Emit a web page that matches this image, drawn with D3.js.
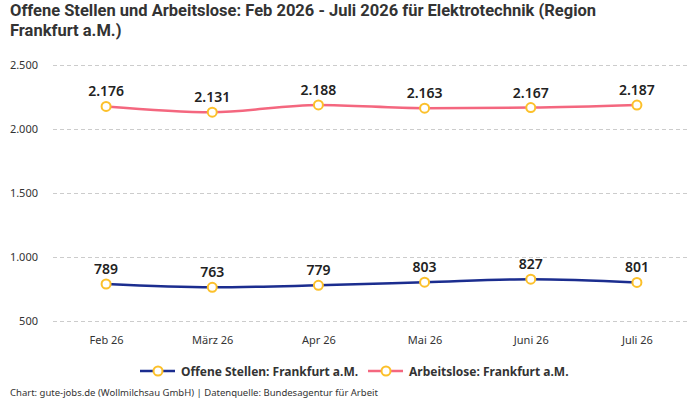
<!DOCTYPE html>
<html>
<head>
<meta charset="utf-8">
<script src="https://cdn.jsdelivr.net/npm/d3@7"></script>
<style>
  body { margin: 0; background: #fff; }
  text { font-family: "Noto Sans", "DejaVu Sans", sans-serif; }
</style>
</head>
<body>
<div id="chart"></div>
<script>
const months = ['Feb 26', 'März 26', 'Apr 26', 'Mai 26', 'Juni 26', 'Juli 26'];
const offeneStellen = [789, 763, 779, 803, 827, 801];
const arbeitslose = [2176, 2131, 2188, 2163, 2167, 2187];
const yTicks = [500, 1000, 1500, 2000, 2500];
const seriesNames = ['Offene Stellen: Frankfurt a.M.', 'Arbeitslose: Frankfurt a.M.'];

const colors = { blue: '#1b2d8f', pink: '#f4677f', marker: '#fcc02a', grid: '#cccccc', text: '#333333' };

let width = 700, height = 400;
const fmt = d3.formatLocale({ decimal: ',', thousands: '.', grouping: [3], currency: ['', '€'] }).format(',d');

let svg = d3.select('#chart').append('svg')
    .attr('width', width).attr('height', height);

// title, two lines
const titleLines = ['Offene Stellen und Arbeitslose: Feb 2026 - Juli 2026 für Elektrotechnik (Region', 'Frankfurt a.M.)'];
svg.selectAll('.title').data(titleLines).enter().append('text')
    .attr('class', 'title')
    .attr('x', 10).attr('y', (d, i) => 16 + i * 20)
    .attr('font-size', 16.5).attr('font-weight', 'bold').attr('fill', colors.text)
    .style('font-family', 'Roboto, sans-serif')
    .text(d => d);

let x = d3.scalePoint().domain(months).range([53, 690]).padding(0.5);
let y = d3.scaleLinear().domain([500, 2500]).range([321, 65]);

// grid + y labels
let yAxis = svg.append('g').attr('transform', 'translate(53,0)')
    .call(d3.axisLeft(y).tickValues(yTicks).tickSize(-637).tickFormat(fmt).tickPadding(15));
yAxis.select('.domain').remove();
yAxis.selectAll('line').attr('stroke', colors.grid).attr('stroke-dasharray', '4,3');
yAxis.selectAll('text').attr('font-size', 11).attr('fill', colors.text)
    .style('font-family', '"Noto Sans", sans-serif');

// x labels
let xAxis = svg.append('g').attr('transform', 'translate(0,321)')
    .call(d3.axisBottom(x).tickSize(0).tickPadding(15));
xAxis.select('.domain').remove();
xAxis.selectAll('text').attr('font-size', 11).attr('fill', colors.text)
    .style('font-family', '"Noto Sans", sans-serif');

const line = d3.line()
    .x((d, i) => x(months[i]))
    .y(d => y(d))
    .curve(d3.curveMonotoneX);

const drawSeries = (values, color) => {
    let g = svg.append('g');
    g.append('path')
        .attr('d', line(values))
        .attr('fill', 'none')
        .attr('stroke', color)
        .attr('stroke-width', 2.5);
    g.selectAll('circle').data(values).enter().append('circle')
        .attr('cx', (d, i) => x(months[i]))
        .attr('cy', d => y(d))
        .attr('r', 4.5)
        .attr('fill', '#fff')
        .attr('stroke', colors.marker)
        .attr('stroke-width', 2);
    g.selectAll('text').data(values).enter().append('text')
        .attr('x', (d, i) => x(months[i]))
        .attr('y', d => y(d) - 10)
        .attr('text-anchor', 'middle')
        .attr('font-size', 14).attr('font-weight', 600).attr('fill', '#222')
        .text(d => fmt(d));
};

drawSeries(offeneStellen, colors.blue);
drawSeries(arbeitslose, colors.pink);

// legend
const legend = [
    { name: seriesNames[0], color: colors.blue, x: 140 },
    { name: seriesNames[1], color: colors.pink, x: 368 }
];
let lg = svg.append('g').attr('transform', 'translate(0,371)');
legend.forEach(l => {
    lg.append('line').attr('x1', l.x).attr('x2', l.x + 35).attr('y1', 0).attr('y2', 0)
        .attr('stroke', l.color).attr('stroke-width', 2.5);
    lg.append('circle').attr('cx', l.x + 18).attr('cy', 0).attr('r', 4.5)
        .attr('fill', '#fff').attr('stroke', colors.marker).attr('stroke-width', 2);
    lg.append('text').attr('x', l.x + 41).attr('y', 4.5)
        .attr('font-size', 12).attr('font-weight', 'bold').attr('fill', colors.text)
        .text(l.name);
});

// footer
svg.append('text')
    .attr('x', 10).attr('y', 396)
    .attr('font-size', 9.5).attr('fill', colors.text)
    .text('Chart: gute-jobs.de (Wollmilchsau GmbH) | Datenquelle: Bundesagentur für Arbeit');
</script>
</body>
</html>
